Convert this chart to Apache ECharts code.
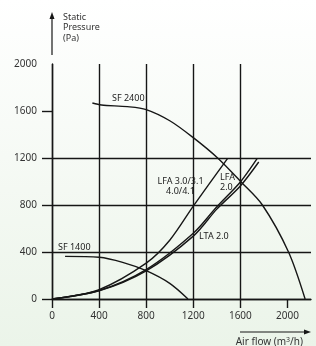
<!DOCTYPE html>
<html>
<head>
<meta charset="utf-8">
<script src="https://cdn.jsdelivr.net/npm/echarts@6/dist/echarts.min.js"></script>
<style>
  html, body { margin: 0; padding: 0; }
  #chart { width: 316px; height: 346px; }
</style>
</head>
<body>
<div id="chart"></div>
<script>
const xTicks = [0, 400, 800, 1200, 1600, 2000];
const yTicks = [0, 400, 800, 1200, 1600, 2000];

// fan curves
const sf2400Flow = [343, 420, 640, 800, 1004, 1200, 1407, 1606, 1787, 2009, 2150];
const sf2400Pressure = [1668, 1651, 1637, 1612, 1515, 1373, 1200, 996, 800, 400, 0];
const sf1400Flow = [111, 400, 600, 800, 1000, 1155];
const sf1400Pressure = [363, 355, 312, 241, 133, 0];

// system curves
const lfa34Flow = [0, 400, 800, 1000, 1200, 1492];
const lfa34Pressure = [0, 80, 305, 500, 790, 1197];
const lfa2Flow = [0, 400, 800, 1200, 1400, 1600, 1742];
const lfa2Pressure = [0, 72, 250, 559, 785, 996, 1194];
const lta2Flow = [0, 400, 800, 1200, 1400, 1600, 1756];
const lta2Pressure = [0, 70, 240, 535, 765, 962, 1166];

const pairs = (xs, ys) => xs.map((x, i) => [x, ys[i]]);

const chart = echarts.init(document.getElementById('chart'));
const ink = '#161616';
const font = 'Noto Sans';

function curve(name, xs, ys) {
    return {
        name: name,
        type: 'line',
        smooth: 0.3,
        showSymbol: false,
        silent: true,
        lineStyle: { color: ink, width: 1.4 },
        data: pairs(xs, ys)
    };
}

chart.setOption({
    animation: false,
    backgroundColor: new echarts.graphic.LinearGradient(0, 0, 0, 1, [
        { offset: 0, color: '#ffffff' },
        { offset: 1, color: '#ebf4e9' }
    ]),
    grid: { left: 52, right: 5, top: 64, bottom: 47 },
    xAxis: {
        type: 'value',
        min: 0,
        max: 2200,
        interval: 400,
        axisLine: { show: true, lineStyle: { color: ink, width: 1.4 } },
        axisTick: { show: true, length: 9, customValues: xTicks, lineStyle: { color: ink, width: 1.4 } },
        axisLabel: { customValues: xTicks, formatter: v => String(v), margin: 12, color: '#333', fontSize: 10, fontFamily: font },
        splitLine: { show: true, showMaxLine: false, lineStyle: { color: ink, width: 1.4 } }
    },
    yAxis: {
        type: 'value',
        min: 0,
        max: 2000,
        interval: 400,
        axisLine: { show: true, lineStyle: { color: ink, width: 1.4 } },
        axisTick: { show: true, length: 10, customValues: yTicks.slice(0, -1), lineStyle: { color: ink, width: 1.4 } },
        axisLabel: { customValues: yTicks, formatter: v => String(v), margin: 15, color: '#333', fontSize: 10, fontFamily: font },
        splitLine: { show: true, showMaxLine: false, lineStyle: { color: ink, width: 1.4 } }
    },
    series: [
        curve('SF 2400', sf2400Flow, sf2400Pressure),
        curve('SF 1400', sf1400Flow, sf1400Pressure),
        curve('LFA 3.0/3.1 4.0/4.1', lfa34Flow, lfa34Pressure),
        curve('LFA 2.0', lfa2Flow, lfa2Pressure),
        curve('LTA 2.0', lta2Flow, lta2Pressure)
    ],
    graphic: [
        // y axis arrow + title
        { type: 'line', shape: { x1: 52, y1: 55, x2: 52, y2: 17 }, style: { stroke: ink, lineWidth: 1.2 } },
        { type: 'polygon', shape: { points: [[52, 12], [49.5, 19], [54.5, 19]] }, style: { fill: ink } },
        { type: 'text', x: 63, y: 12, style: { text: 'Static\nPressure\n(Pa)', font: '9px "Noto Sans"', fill: '#333', lineHeight: 10.5 } },
        // x axis arrow + title
        { type: 'line', shape: { x1: 240, y1: 332, x2: 305, y2: 332 }, style: { stroke: ink, lineWidth: 1.2 } },
        { type: 'polygon', shape: { points: [[311, 332], [304, 329.5], [304, 334.5]] }, style: { fill: ink } },
        {
            type: 'text', x: 303, y: 342,
            style: {
                text: '{a|Air flow (m}{s|3}{a|/h)}',
                align: 'right', verticalAlign: 'middle',
                rich: {
                    a: { fontSize: 10, fontFamily: font, fill: '#333', color: '#333' },
                    s: { fontSize: 7, fontFamily: font, fill: '#333', color: '#333', verticalAlign: 'top', padding: [0, 0, 5, 0] }
                }
            }
        },
        // curve labels
        { type: 'text', x: 112, y: 98.5, style: { text: 'SF 2400', font: '9px "Noto Sans"', fill: '#222', verticalAlign: 'middle' } },
        { type: 'text', x: 58, y: 247, style: { text: 'SF 1400', font: '9px "Noto Sans"', fill: '#222', verticalAlign: 'middle' } },
        { type: 'text', x: 180.5, y: 177, style: { text: 'LFA 3.0/3.1\n4.0/4.1', font: '9px "Noto Sans"', fill: '#222', align: 'center', lineHeight: 9.5 } },
        { type: 'text', x: 220, y: 173, style: { text: 'LFA\n2.0', font: '9px "Noto Sans"', fill: '#222', lineHeight: 9.5 } },
        { type: 'text', x: 199, y: 236.5, style: { text: 'LTA 2.0', font: '9px "Noto Sans"', fill: '#222', verticalAlign: 'middle' } }
    ]
});
</script>
</body>
</html>
